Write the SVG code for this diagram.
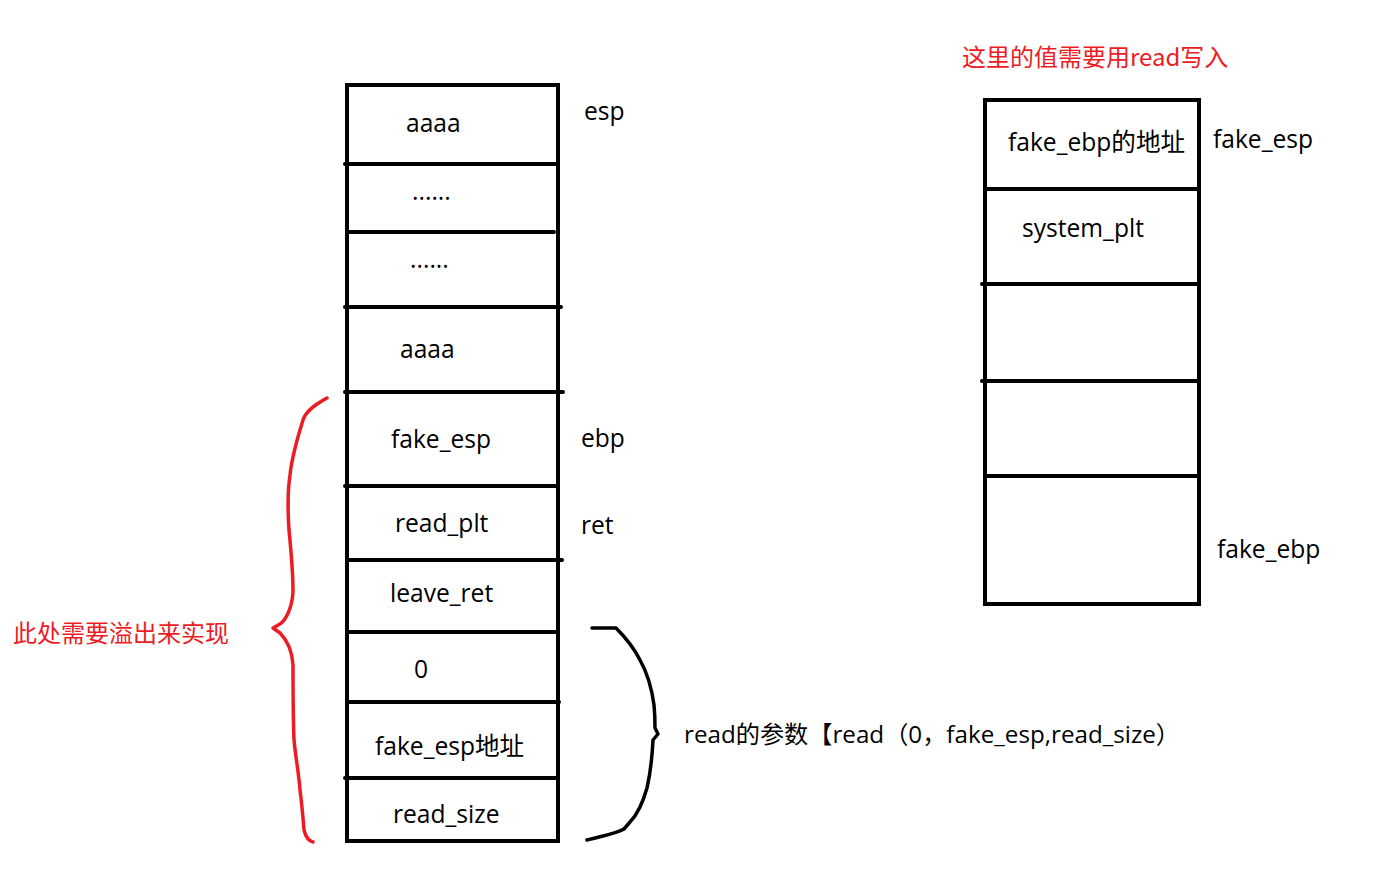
<svg xmlns="http://www.w3.org/2000/svg" width="1396" height="885" viewBox="0 0 1396 885">
<style>
.frame{fill:none;stroke:#000;stroke-width:4;stroke-linecap:square}
.div{stroke:#000;stroke-width:4;stroke-linecap:round}
.t{font-family:"Open Sans","Noto Sans CJK SC",sans-serif;font-size:24.6px;fill:#000}
.r{font-family:"Noto Sans CJK SC","Open Sans",sans-serif;font-size:24px;fill:#ED1C24}
.brace{fill:none;stroke-width:3.5;stroke-linecap:round;stroke-linejoin:round}
</style>
<rect width="1396" height="885" fill="#fff"/>

<g id="left-stack">
  <rect class="frame" x="347" y="85" width="211" height="756"/>
  <g id="cell-aaaa-top"><text class="t" x="406" y="132">aaaa</text></g>
  <line class="div" x1="345" y1="164" x2="558" y2="164"/>
  <g id="cell-dots-1"><text class="t" x="412" y="200">......</text></g>
  <line class="div" x1="347" y1="232" x2="554" y2="232"/>
  <g id="cell-dots-2"><text class="t" x="410" y="268">......</text></g>
  <line class="div" x1="345" y1="307" x2="561" y2="307"/>
  <g id="cell-aaaa-bottom"><text class="t" x="400" y="358">aaaa</text></g>
  <line class="div" x1="345" y1="392" x2="563" y2="392"/>
  <g id="cell-fake-esp"><text class="t" x="391" y="448">fake_esp</text></g>
  <line class="div" x1="345" y1="486" x2="558" y2="486"/>
  <g id="cell-read-plt"><text class="t" x="395" y="532">read_plt</text></g>
  <line class="div" x1="347" y1="560" x2="562" y2="560"/>
  <g id="cell-leave-ret"><text class="t" x="390" y="602">leave_ret</text></g>
  <line class="div" x1="347" y1="632" x2="558" y2="632"/>
  <g id="cell-zero"><text class="t" x="414" y="678">0</text></g>
  <line class="div" x1="347" y1="702" x2="559" y2="702"/>
  <g id="cell-fake-esp-addr"><text class="t" x="375" y="755">fake_esp地址</text></g>
  <line class="div" x1="345" y1="778" x2="558" y2="778"/>
  <g id="cell-read-size"><text class="t" x="393" y="823">read_size</text></g>
</g>

<g id="left-labels">
  <text class="t" x="584" y="120">esp</text>
  <text class="t" x="581" y="447">ebp</text>
  <text class="t" x="581" y="534">ret</text>
</g>

<g id="right-stack">
  <text class="r" x="962" y="66">这里的值需要用read写入</text>
  <rect class="frame" x="985" y="100" width="214" height="504"/>
  <g id="r-cell-fake-ebp-addr"><text class="t" x="1008" y="151">fake_ebp的地址</text></g>
  <line class="div" x1="985" y1="189" x2="1199" y2="189"/>
  <g id="r-cell-system-plt"><text class="t" x="1022" y="237">system_plt</text></g>
  <line class="div" x1="982" y1="284" x2="1199" y2="284"/>
  <g id="r-cell-empty-1"></g>
  <line class="div" x1="982" y1="381" x2="1199" y2="381"/>
  <g id="r-cell-empty-2"></g>
  <line class="div" x1="985" y1="476" x2="1199" y2="476"/>
  <g id="r-cell-empty-3"></g>
  <text class="t" x="1213" y="148">fake_esp</text>
  <text class="t" x="1217" y="558">fake_ebp</text>
</g>

<g id="connectors">
  <path class="brace" stroke="#ED1C24" d="M327,398 C318,403 306,410 303,420 C298,436 292,455 290,475 C287,495 288,515 289,530 C291,550 293,570 293,592 C292,608 286,620 280,624 L273,628 L280,633 C287,640 292,650 293,665 C293,690 293,715 294,740 C296,760 299,775 300,790 C302,805 303,818 304,830 C306,838 309,841 313,842"/>
  <text class="r" x="13" y="642">此处需要溢出来实现</text>
  <path class="brace" stroke="#000" d="M592,628 L616,628 C624,636 633,646 640,660 C649,676 652,690 654,705 C655,715 655,722 655,728 L658,734 L653,740 C652,760 650,775 647,788 C643,802 638,814 630,822 L624,829 C615,834 602,836 587,840"/>
  <text class="t" style="font-size:24.2px" x="684" y="743">read的参数【read（0，fake_esp,read_size）</text>
</g>
</svg>
